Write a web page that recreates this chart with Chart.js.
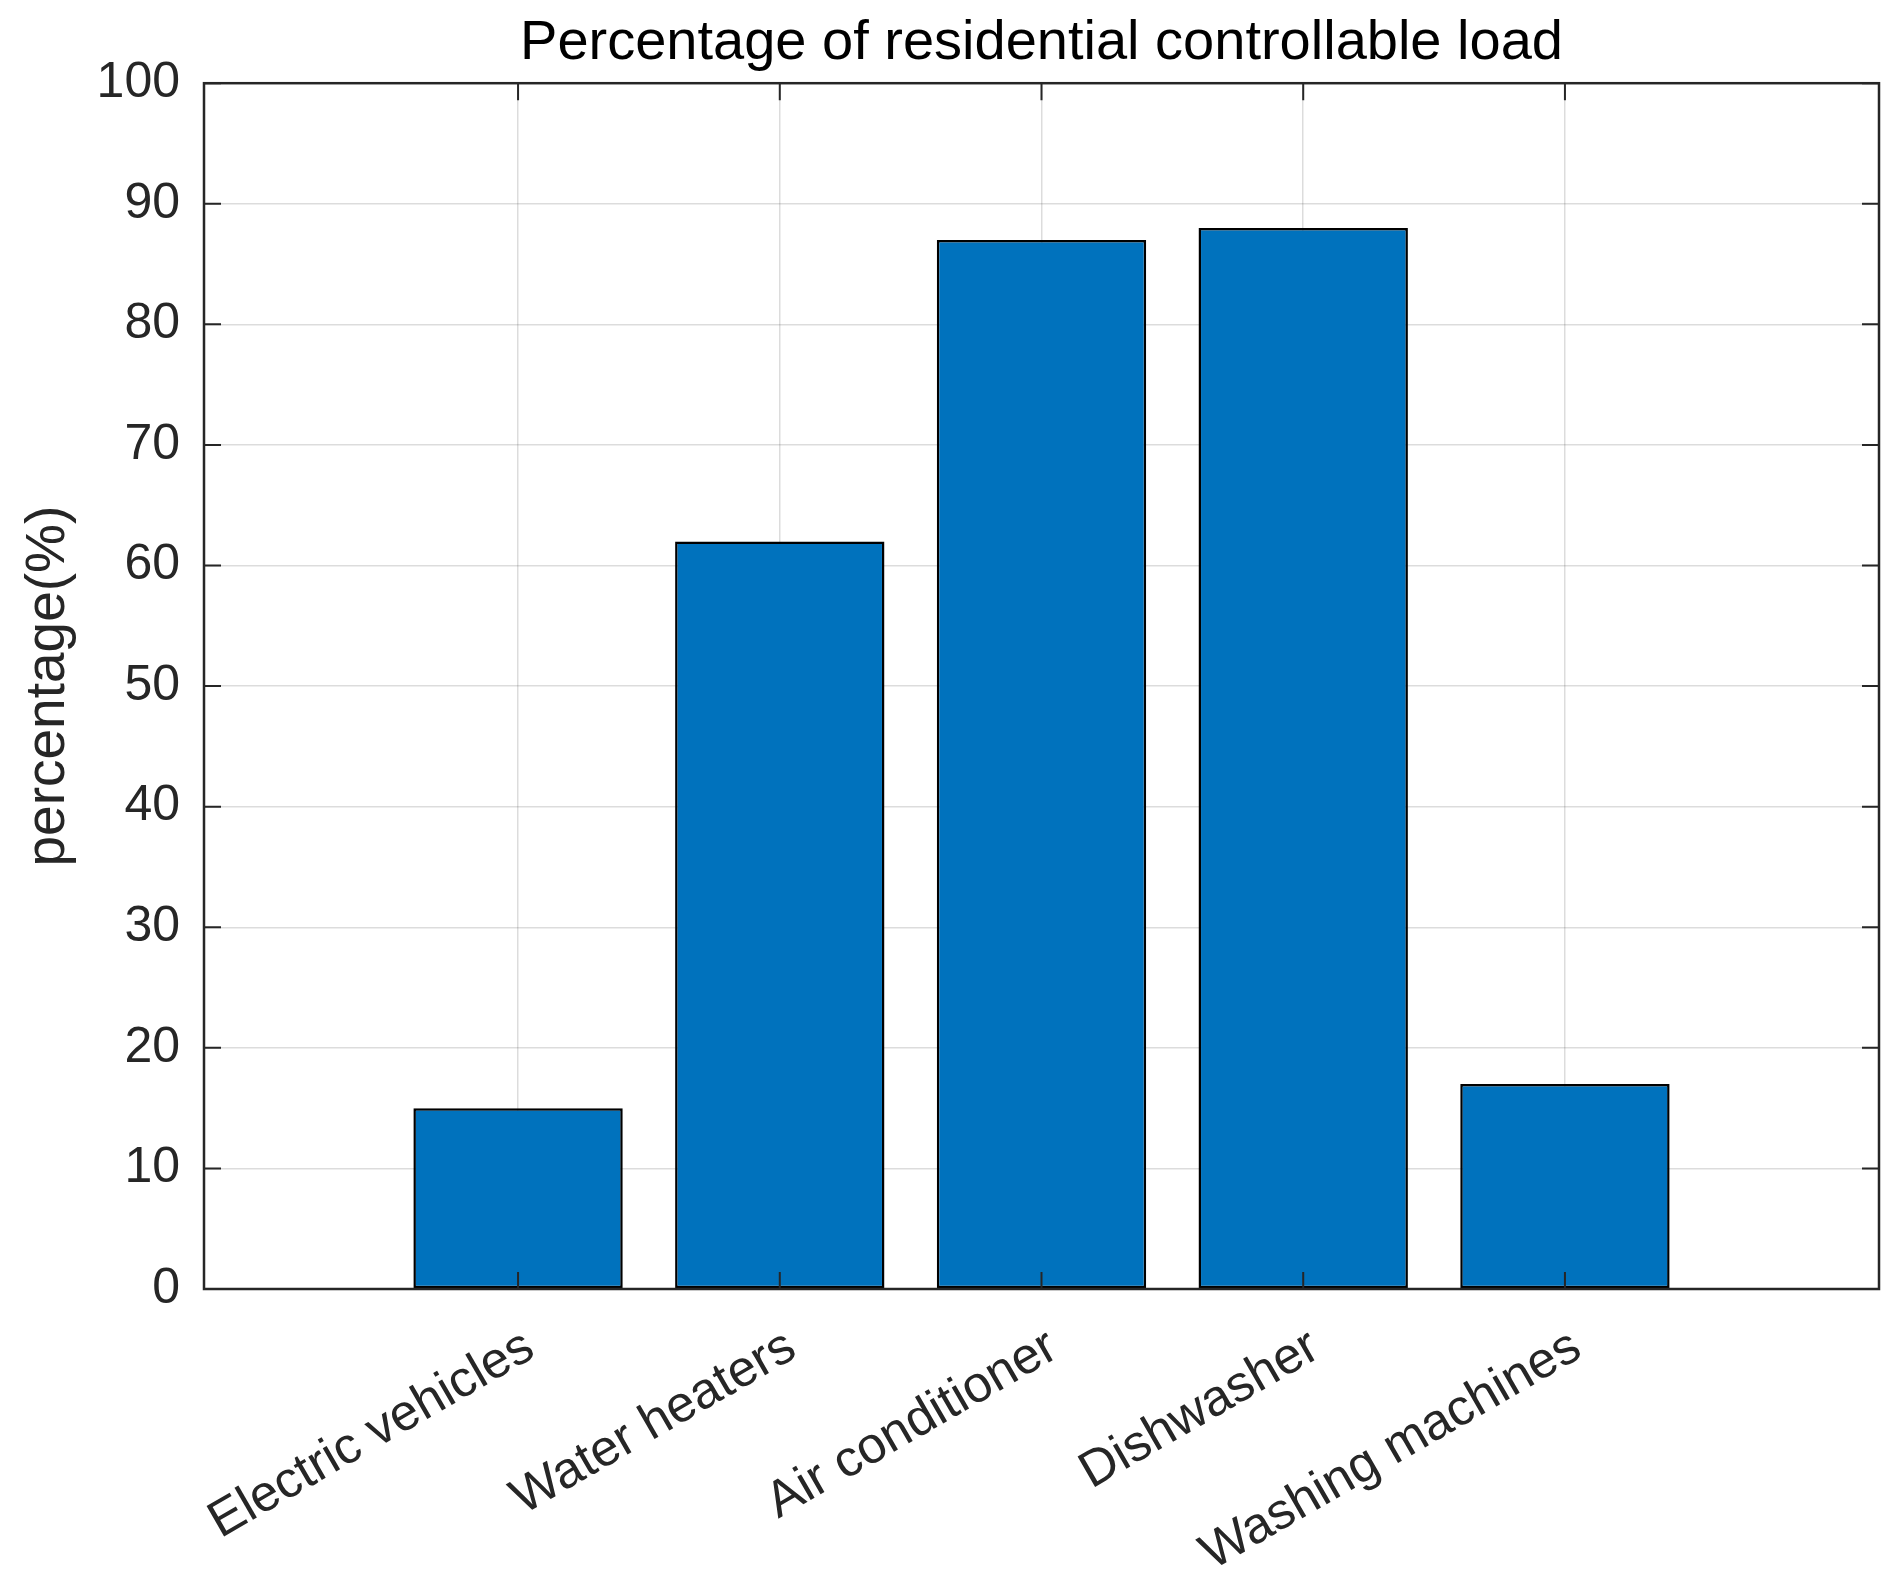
<!DOCTYPE html>
<html>
<head>
<meta charset="utf-8">
<script src="https://cdn.jsdelivr.net/npm/chart.js@4.4.1/dist/chart.umd.min.js"></script>
<style>
  html, body { margin: 0; padding: 0; background: #fff; }
  .wrap { width: 1903px; height: 1577px; }
</style>
</head>
<body>
<div class="wrap"><canvas class="bar-chart"></canvas></div>
<script>
const categories = [
  'Electric vehicles',
  'Water heaters',
  'Air conditioner',
  'Dishwasher',
  'Washing machines',
];

// percentage of each load that is controllable
const shares = [15, 62, 87, 88, 17];

const yTicks = [0, 10, 20, 30, 40, 50, 60, 70, 80, 90, 100];

const titleText = 'Percentage of residential controllable load';
const yLabel = 'percentage(%)';

const fontFamily = '"Liberation Sans", Arial, Helvetica, sans-serif';
const axisColor = '#262626';
const tickLen = 17;

// MATLAB-like box with inward ticks, drawn over the bars
const axisBox = {
  id: 'axisBox',
  afterDatasetsDraw(chart) {
    const { ctx, chartArea, scales } = chart;
    const { left, right, top, bottom } = chartArea;
    ctx.save();
    ctx.strokeStyle = axisColor;
    ctx.lineWidth = 2;
    ctx.beginPath();
    scales.y.ticks.forEach((t) => {
      const py = scales.y.getPixelForValue(t.value);
      ctx.moveTo(left, py);
      ctx.lineTo(left + tickLen, py);
      ctx.moveTo(right, py);
      ctx.lineTo(right - tickLen, py);
    });
    scales.x.ticks.forEach((t) => {
      const px = scales.x.getPixelForValue(t.value);
      ctx.moveTo(px, bottom);
      ctx.lineTo(px, bottom - tickLen);
      ctx.moveTo(px, top);
      ctx.lineTo(px, top + tickLen);
    });
    ctx.stroke();
    ctx.lineWidth = 2.5;
    ctx.strokeRect(left, top, right - left, bottom - top);
    ctx.restore();
  },
};

const renderChart = () => {
  const canvas = document.querySelector('.bar-chart');

  // eslint-disable-next-line no-new, no-undef
  new Chart(canvas, {
    type: 'bar',
    data: {
      datasets: [
        {
          label: yLabel,
          data: shares.map((v, i) => ({ x: i + 1, y: v })),
          backgroundColor: '#0072BD',
          borderColor: '#000000',
          borderWidth: 2.5,
          borderSkipped: false,
          categoryPercentage: 0.8,
          barPercentage: 1.0,
        },
      ],
    },
    options: {
      responsive: true,
      maintainAspectRatio: false,
      animation: false,
      devicePixelRatio: 1,
      layout: { padding: { left: 0, right: 24, top: 0, bottom: 0 } },
      plugins: {
        legend: { display: false },
        tooltip: { enabled: false },
        title: {
          display: true,
          text: titleText,
          color: '#000000',
          fullSize: false,
          font: { family: fontFamily, size: 56, weight: 'normal', lineHeight: 1.2 },
          padding: { top: 10, bottom: 6 },
        },
      },
      scales: {
        x: {
          type: 'linear',
          offset: false,
          min: -0.2,
          max: categories.length + 1.2,
          afterBuildTicks: (axis) => {
            axis.ticks = categories.map((c, i) => ({ value: i + 1 }));
          },
          afterFit: (axis) => { axis.height = 288; },
          border: { display: false },
          grid: {
            offset: false,
            color: 'rgba(38, 38, 38, 0.16)',
            lineWidth: 1.5,
            borderDash: [2, 2],
            drawTicks: false,
          },
          ticks: {
            autoSkip: false,
            maxRotation: 30,
            minRotation: 30,
            padding: 28,
            labelOffset: 12,
            color: axisColor,
            font: { family: fontFamily, size: 51 },
            callback: (value) => categories[value - 1] || '',
          },
        },
        y: {
          min: yTicks[0],
          max: yTicks[yTicks.length - 1],
          afterBuildTicks: (axis) => {
            axis.ticks = yTicks.map((v) => ({ value: v }));
          },
          afterFit: (axis) => { axis.width = 204; },
          border: { display: false },
          grid: {
            color: 'rgba(38, 38, 38, 0.16)',
            lineWidth: 1.5,
            borderDash: [2, 2],
            drawTicks: false,
          },
          ticks: {
            padding: 24,
            color: axisColor,
            font: { family: fontFamily, size: 50 },
          },
          title: {
            display: true,
            text: yLabel,
            color: axisColor,
            font: { family: fontFamily, size: 55, lineHeight: 1.2 },
            padding: { top: 16 },
          },
        },
      },
    },
    plugins: [axisBox],
  });
};

renderChart();
</script>
</body>
</html>
